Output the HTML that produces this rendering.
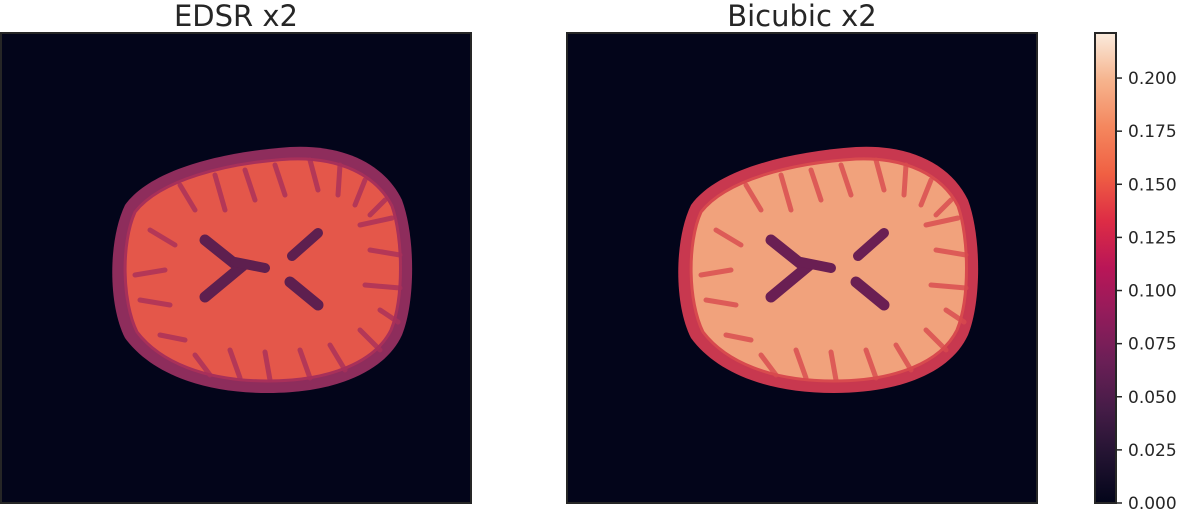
<!DOCTYPE html>
<html><head><meta charset="utf-8"><style>
body{margin:0;background:#fff;width:1194px;height:514px;overflow:hidden;font-family:"DejaVu Sans","Liberation Sans",sans-serif}
</style></head><body>
<svg id="fig" width="1194" height="514" viewBox="0 0 1194 514" xmlns="http://www.w3.org/2000/svg">
<defs>
<linearGradient id="rocket" x1="0" y1="1" x2="0" y2="0">
<stop offset="0" stop-color="#03051A"/><stop offset="0.1" stop-color="#221331"/>
<stop offset="0.2" stop-color="#451C47"/><stop offset="0.3" stop-color="#6A1F56"/>
<stop offset="0.4" stop-color="#921C5B"/><stop offset="0.5" stop-color="#B91657"/>
<stop offset="0.6" stop-color="#DD2C45"/><stop offset="0.7" stop-color="#F06043"/>
<stop offset="0.8" stop-color="#F4875E"/><stop offset="0.9" stop-color="#F6B48E"/>
<stop offset="1" stop-color="#FAEBDD"/></linearGradient>
</defs>
<text x="236" y="26" font-size="29" text-anchor="middle" fill="#262626">EDSR x2</text>
<text x="802" y="26" font-size="29" text-anchor="middle" fill="#262626">Bicubic x2</text>
<g id="p1"></g>
<g id="p2"></g>
<rect x="1095" y="33" width="21" height="470" fill="url(#rocket)" stroke="#262626" stroke-width="2"/>
<g id="cbticks"></g>
</svg>
<script>
const tickValues=[0,0.025,0.05,0.075,0.1,0.125,0.15,0.175,0.2];
const tickLabels=["0.000","0.025","0.050","0.075","0.100","0.125","0.150","0.175","0.200"];
const vmin=0, vmax=0.2212;
const NS="http://www.w3.org/2000/svg";
function yScale(v){return 503-(v-vmin)/(vmax-vmin)*470;}
const cb=document.getElementById('cbticks');
tickValues.forEach((v,i)=>{
 const y=yScale(v);
 const l=document.createElementNS(NS,'line');
 
 
 l.setAttribute('x1',1116);l.setAttribute('x2',1122);l.setAttribute('y1',y);l.setAttribute('y2',y);
 l.setAttribute('stroke','#262626');l.setAttribute('stroke-width','1.5');cb.appendChild(l);
 const t=document.createElementNS(NS,'text');
 
 
 t.setAttribute('x',1128);t.setAttribute('y',y+6);t.setAttribute('font-size','17');t.setAttribute('fill','#262626');
 t.textContent=tickLabels[i];cb.appendChild(t);
});
const outline="M 125,205 C 150,170 220,152 290,147 C 345,144 385,165 402,200 C 415,235 416,300 402,335 C 385,372 335,393 268,393 C 200,393 150,372 125,338 C 108,305 108,240 125,205 Z";
const inner="M 135,212 C 160,180 225,163 290,159 C 340,157 376,175 392,206 C 403,238 404,298 391,330 C 375,362 330,381 268,381 C 205,381 160,362 137,332 C 122,302 121,243 135,212 Z";
function draw(id,ox,c){
 const g=document.getElementById(id);
 let s=`<g transform="translate(${ox},0)">
 <rect x="1" y="33" width="470" height="470" fill="#03051A" stroke="#262626" stroke-width="2"/>
 <path d="${outline}" fill="${c.edge}"/>
 <path d="${inner}" fill="${c.main}" stroke="${c.mid}" stroke-width="3"/>
 <g stroke="${c.mid}" stroke-width="5" fill="none" stroke-linecap="round" opacity="0.8">
  <path d="M180,185 L195,210 M215,175 L225,210 M245,170 L255,200 M275,165 L285,195 M310,160 L318,190 M340,165 L338,195 M365,180 L355,205 M150,230 L175,245 M135,275 L165,270 M140,300 L170,305 M160,335 L185,340 M195,355 L210,375 M230,350 L240,378 M265,352 L270,380 M300,350 L310,378 M330,345 L345,370 M360,330 L380,350 M370,250 L400,255 M365,285 L400,288 M380,310 L398,322 M360,225 L392,218 M385,200 L370,215"/>
 </g>
 <g stroke="${c.dark}" stroke-linecap="round" fill="none">
  <path d="M205,240 L240,268 L205,297" stroke-width="11"/>
  <path d="M318,233 L292,256" stroke-width="10"/>
  <path d="M290,282 L318,305" stroke-width="11"/>
  <path d="M235,262 L265,268" stroke-width="10"/>
 </g></g>`;
 g.innerHTML=s;
}
draw('p1',0,{edge:'#8E2D5C',main:'#E4574A',mid:'#A8305A',dark:'#5E1F4F'});
draw('p2',566,{edge:'#C8384F',main:'#F1A27C',mid:'#D84A4E',dark:'#6A1F53'});
</script>
</body></html>
